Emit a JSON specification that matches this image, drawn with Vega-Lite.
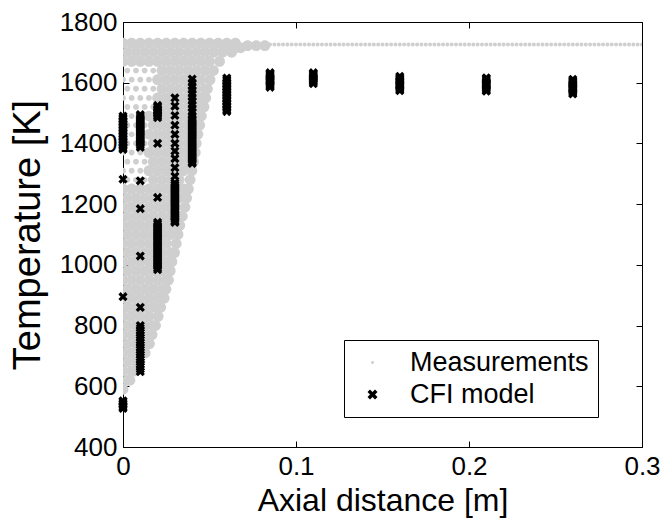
{
  "$schema": "https://vega.github.io/schema/vega-lite/v6.json",
  "width": 519,
  "height": 425,
  "autosize": "none",
  "padding": {"left": 123, "top": 22, "right": 22, "bottom": 71},
  "background": "white",
  "config": {
    "font": "Liberation Sans",
    "view": {"stroke": "black", "strokeWidth": 1},
    "axis": {"grid": false, "domainColor": "black", "tickColor": "black", "labelColor": "black", "titleColor": "black", "labelFont": "Liberation Sans", "titleFont": "Liberation Sans", "titleFontWeight": "normal", "labelFontSize": 26, "titleFontSize": 32, "tickSize": -6, "labelPadding": 12, "labelFlush": false, "labelOverlap": false}
  },
  "datasets": {
    "sparse": [
      {"x":0.0025,"T":1280},{"x":0.0075,"T":1280},{"x":0.0125,"T":1280},
      {"x":0,"T":1310},{"x":0.005,"T":1310},{"x":0.01,"T":1310},
      {"x":0.0025,"T":1340},{"x":0.0075,"T":1340},{"x":0.0125,"T":1340},
      {"x":0,"T":1370},{"x":0.005,"T":1370},{"x":0.01,"T":1370},
      {"x":0.0025,"T":1400},{"x":0.0075,"T":1400},{"x":0.0125,"T":1400},
      {"x":0,"T":1430},{"x":0.005,"T":1430},{"x":0.01,"T":1430},
      {"x":0.0025,"T":1460},{"x":0.0075,"T":1460},{"x":0.0125,"T":1460},
      {"x":0,"T":1490},{"x":0.005,"T":1490},{"x":0.01,"T":1490},
      {"x":0.0025,"T":1520},{"x":0.0075,"T":1520},{"x":0.0125,"T":1520},{"x":0.0175,"T":1520},
      {"x":0,"T":1550},{"x":0.005,"T":1550},{"x":0.01,"T":1550},{"x":0.015,"T":1550},
      {"x":0.0025,"T":1580},{"x":0.0075,"T":1580},{"x":0.0125,"T":1580},{"x":0.0175,"T":1580},
      {"x":0,"T":1610},{"x":0.005,"T":1610},{"x":0.01,"T":1610},{"x":0.015,"T":1610},
      {"x":0.0025,"T":1640},{"x":0.0075,"T":1640},{"x":0.0125,"T":1640},{"x":0.0175,"T":1640}
    ],
    "meas": [
      {"x":0,"T":590},
      {"x":0.0025,"T":620},{"x":0.004,"T":620},
      {"x":0,"T":650},{"x":0.005,"T":650},{"x":0.007,"T":650},
      {"x":0.0025,"T":680},{"x":0.0075,"T":680},{"x":0.0098,"T":680},
      {"x":0,"T":710},{"x":0.005,"T":710},{"x":0.01,"T":710},{"x":0.0128,"T":710},
      {"x":0.0025,"T":740},{"x":0.0075,"T":740},{"x":0.0125,"T":740},{"x":0.0153,"T":740},
      {"x":0,"T":770},{"x":0.005,"T":770},{"x":0.01,"T":770},{"x":0.015,"T":770},{"x":0.0168,"T":770},
      {"x":0.0025,"T":800},{"x":0.0075,"T":800},{"x":0.0125,"T":800},{"x":0.0175,"T":800},{"x":0.0188,"T":800},
      {"x":0,"T":830},{"x":0.005,"T":830},{"x":0.01,"T":830},{"x":0.015,"T":830},{"x":0.0203,"T":830},
      {"x":0.0025,"T":860},{"x":0.0075,"T":860},{"x":0.0125,"T":860},{"x":0.0175,"T":860},{"x":0.0218,"T":860},
      {"x":0,"T":890},{"x":0.005,"T":890},{"x":0.01,"T":890},{"x":0.015,"T":890},{"x":0.02,"T":890},{"x":0.0238,"T":890},
      {"x":0.0025,"T":920},{"x":0.0075,"T":920},{"x":0.0125,"T":920},{"x":0.0175,"T":920},{"x":0.0225,"T":920},{"x":0.0248,"T":920},
      {"x":0,"T":950},{"x":0.005,"T":950},{"x":0.01,"T":950},{"x":0.015,"T":950},{"x":0.02,"T":950},{"x":0.025,"T":950},{"x":0.0263,"T":950},
      {"x":0.0025,"T":980},{"x":0.0075,"T":980},{"x":0.0125,"T":980},{"x":0.0175,"T":980},{"x":0.0225,"T":980},{"x":0.0273,"T":980},
      {"x":0,"T":1010},{"x":0.005,"T":1010},{"x":0.01,"T":1010},{"x":0.015,"T":1010},{"x":0.02,"T":1010},{"x":0.025,"T":1010},{"x":0.0283,"T":1010},
      {"x":0.0025,"T":1040},{"x":0.0075,"T":1040},{"x":0.0125,"T":1040},{"x":0.0175,"T":1040},{"x":0.0225,"T":1040},{"x":0.0275,"T":1040},{"x":0.0298,"T":1040},
      {"x":0,"T":1070},{"x":0.005,"T":1070},{"x":0.01,"T":1070},{"x":0.015,"T":1070},{"x":0.02,"T":1070},{"x":0.025,"T":1070},{"x":0.0308,"T":1070},
      {"x":0.0025,"T":1100},{"x":0.0075,"T":1100},{"x":0.0125,"T":1100},{"x":0.0175,"T":1100},{"x":0.0225,"T":1100},{"x":0.0275,"T":1100},{"x":0.0318,"T":1100},
      {"x":0,"T":1130},{"x":0.005,"T":1130},{"x":0.01,"T":1130},{"x":0.015,"T":1130},{"x":0.02,"T":1130},{"x":0.025,"T":1130},{"x":0.03,"T":1130},{"x":0.0328,"T":1130},
      {"x":0.0025,"T":1160},{"x":0.0075,"T":1160},{"x":0.0125,"T":1160},{"x":0.0175,"T":1160},{"x":0.0225,"T":1160},{"x":0.0275,"T":1160},{"x":0.0325,"T":1160},{"x":0.0343,"T":1160},
      {"x":0,"T":1190},{"x":0.005,"T":1190},{"x":0.01,"T":1190},{"x":0.015,"T":1190},{"x":0.02,"T":1190},{"x":0.025,"T":1190},{"x":0.03,"T":1190},{"x":0.0358,"T":1190},
      {"x":0.0025,"T":1220},{"x":0.0075,"T":1220},{"x":0.0125,"T":1220},{"x":0.0175,"T":1220},{"x":0.0225,"T":1220},{"x":0.0275,"T":1220},{"x":0.0325,"T":1220},{"x":0.0368,"T":1220},
      {"x":0,"T":1250},{"x":0.005,"T":1250},{"x":0.01,"T":1250},{"x":0.015,"T":1250},{"x":0.02,"T":1250},{"x":0.025,"T":1250},{"x":0.03,"T":1250},{"x":0.035,"T":1250},{"x":0.0378,"T":1250},
      {"x":0.0175,"T":1280},{"x":0.0225,"T":1280},{"x":0.0275,"T":1280},{"x":0.0325,"T":1280},{"x":0.0388,"T":1280},
      {"x":0.015,"T":1310},{"x":0.02,"T":1310},{"x":0.025,"T":1310},{"x":0.03,"T":1310},{"x":0.035,"T":1310},{"x":0.0398,"T":1310},
      {"x":0.0175,"T":1340},{"x":0.0225,"T":1340},{"x":0.0275,"T":1340},{"x":0.0325,"T":1340},{"x":0.0375,"T":1340},{"x":0.0408,"T":1340},
      {"x":0.015,"T":1370},{"x":0.02,"T":1370},{"x":0.025,"T":1370},{"x":0.03,"T":1370},{"x":0.035,"T":1370},{"x":0.04,"T":1370},{"x":0.0418,"T":1370},
      {"x":0.0175,"T":1400},{"x":0.0225,"T":1400},{"x":0.0275,"T":1400},{"x":0.0325,"T":1400},{"x":0.0375,"T":1400},{"x":0.0423,"T":1400},
      {"x":0.015,"T":1430},{"x":0.02,"T":1430},{"x":0.025,"T":1430},{"x":0.03,"T":1430},{"x":0.035,"T":1430},{"x":0.04,"T":1430},{"x":0.0433,"T":1430},
      {"x":0.0175,"T":1460},{"x":0.0225,"T":1460},{"x":0.0275,"T":1460},{"x":0.0325,"T":1460},{"x":0.0375,"T":1460},{"x":0.0425,"T":1460},{"x":0.0443,"T":1460},
      {"x":0.015,"T":1490},{"x":0.02,"T":1490},{"x":0.025,"T":1490},{"x":0.03,"T":1490},{"x":0.035,"T":1490},{"x":0.04,"T":1490},{"x":0.0453,"T":1490},
      {"x":0.0225,"T":1520},{"x":0.0275,"T":1520},{"x":0.0325,"T":1520},{"x":0.0375,"T":1520},{"x":0.0425,"T":1520},{"x":0.0468,"T":1520},
      {"x":0.02,"T":1550},{"x":0.025,"T":1550},{"x":0.03,"T":1550},{"x":0.035,"T":1550},{"x":0.04,"T":1550},{"x":0.045,"T":1550},{"x":0.0478,"T":1550},
      {"x":0.0225,"T":1580},{"x":0.0275,"T":1580},{"x":0.0325,"T":1580},{"x":0.0375,"T":1580},{"x":0.0425,"T":1580},{"x":0.0475,"T":1580},{"x":0.0488,"T":1580},
      {"x":0.02,"T":1610},{"x":0.025,"T":1610},{"x":0.03,"T":1610},{"x":0.035,"T":1610},{"x":0.04,"T":1610},{"x":0.045,"T":1610},{"x":0.0503,"T":1610},
      {"x":0.0225,"T":1640},{"x":0.0275,"T":1640},{"x":0.0325,"T":1640},{"x":0.0375,"T":1640},{"x":0.0425,"T":1640},{"x":0.0475,"T":1640},{"x":0.0523,"T":1640},
      {"x":0,"T":1670},{"x":0.005,"T":1670},{"x":0.01,"T":1670},{"x":0.015,"T":1670},{"x":0.02,"T":1670},{"x":0.025,"T":1670},{"x":0.03,"T":1670},{"x":0.035,"T":1670},{"x":0.04,"T":1670},{"x":0.045,"T":1670},{"x":0.05,"T":1670},{"x":0.0558,"T":1670},
      {"x":0.0025,"T":1700},{"x":0.0075,"T":1700},{"x":0.0125,"T":1700},{"x":0.0175,"T":1700},{"x":0.0225,"T":1700},{"x":0.0275,"T":1700},{"x":0.0325,"T":1700},{"x":0.0375,"T":1700},{"x":0.0425,"T":1700},{"x":0.0475,"T":1700},{"x":0.0525,"T":1700},{"x":0.0575,"T":1700},{"x":0.0628,"T":1700},
      {"x":0.06,"T":1715},{"x":0.065,"T":1715},{"x":0.068,"T":1715},
      {"x":0.072,"T":1722},{"x":0.077,"T":1722},{"x":0.082,"T":1722},
      {"x":0,"T":1730},{"x":0.005,"T":1730},{"x":0.01,"T":1730},{"x":0.015,"T":1730},{"x":0.02,"T":1730},{"x":0.025,"T":1730},{"x":0.03,"T":1730},{"x":0.035,"T":1730},{"x":0.04,"T":1730},{"x":0.045,"T":1730},{"x":0.05,"T":1730},{"x":0.055,"T":1730},{"x":0.06,"T":1730},{"x":0.065,"T":1730}
    ],
    "top": [
      {"x":0.06,"T":1726},{"x":0.0625,"T":1726},{"x":0.065,"T":1726},{"x":0.0675,"T":1726},{"x":0.07,"T":1726},{"x":0.0725,"T":1726},{"x":0.075,"T":1726},{"x":0.0775,"T":1726},{"x":0.08,"T":1726},{"x":0.0825,"T":1726},
      {"x":0.085,"T":1726},{"x":0.0875,"T":1726},{"x":0.09,"T":1726},{"x":0.0925,"T":1726},{"x":0.095,"T":1726},{"x":0.0975,"T":1726},{"x":0.1,"T":1726},{"x":0.1025,"T":1726},{"x":0.105,"T":1726},{"x":0.1075,"T":1726},
      {"x":0.11,"T":1726},{"x":0.1125,"T":1726},{"x":0.115,"T":1726},{"x":0.1175,"T":1726},{"x":0.12,"T":1726},{"x":0.1225,"T":1726},{"x":0.125,"T":1726},{"x":0.1275,"T":1726},{"x":0.13,"T":1726},{"x":0.1325,"T":1726},
      {"x":0.135,"T":1726},{"x":0.1375,"T":1726},{"x":0.14,"T":1726},{"x":0.1425,"T":1726},{"x":0.145,"T":1726},{"x":0.1475,"T":1726},{"x":0.15,"T":1726},{"x":0.1525,"T":1726},{"x":0.155,"T":1726},{"x":0.1575,"T":1726},
      {"x":0.16,"T":1726},{"x":0.1625,"T":1726},{"x":0.165,"T":1726},{"x":0.1675,"T":1726},{"x":0.17,"T":1726},{"x":0.1725,"T":1726},{"x":0.175,"T":1726},{"x":0.1775,"T":1726},{"x":0.18,"T":1726},{"x":0.1825,"T":1726},
      {"x":0.185,"T":1726},{"x":0.1875,"T":1726},{"x":0.19,"T":1726},{"x":0.1925,"T":1726},{"x":0.195,"T":1726},{"x":0.1975,"T":1726},{"x":0.2,"T":1726},{"x":0.2025,"T":1726},{"x":0.205,"T":1726},{"x":0.2075,"T":1726},
      {"x":0.21,"T":1726},{"x":0.2125,"T":1726},{"x":0.215,"T":1726},{"x":0.2175,"T":1726},{"x":0.22,"T":1726},{"x":0.2225,"T":1726},{"x":0.225,"T":1726},{"x":0.2275,"T":1726},{"x":0.23,"T":1726},{"x":0.2325,"T":1726},
      {"x":0.235,"T":1726},{"x":0.2375,"T":1726},{"x":0.24,"T":1726},{"x":0.2425,"T":1726},{"x":0.245,"T":1726},{"x":0.2475,"T":1726},{"x":0.25,"T":1726},{"x":0.2525,"T":1726},{"x":0.255,"T":1726},{"x":0.2575,"T":1726},
      {"x":0.26,"T":1726},{"x":0.2625,"T":1726},{"x":0.265,"T":1726},{"x":0.2675,"T":1726},{"x":0.27,"T":1726},{"x":0.2725,"T":1726},{"x":0.275,"T":1726},{"x":0.2775,"T":1726},{"x":0.28,"T":1726},{"x":0.2825,"T":1726},
      {"x":0.285,"T":1726},{"x":0.2875,"T":1726},{"x":0.29,"T":1726},{"x":0.2925,"T":1726},{"x":0.295,"T":1726},{"x":0.2975,"T":1726},{"x":0.3,"T":1726}
    ],
    "cfi": [
      {"x":0,"T":1490},{"x":0,"T":1485},{"x":0,"T":1480},{"x":0,"T":1475},{"x":0,"T":1470},{"x":0,"T":1465},{"x":0,"T":1460},{"x":0,"T":1455},{"x":0,"T":1450},{"x":0,"T":1445},{"x":0,"T":1440},{"x":0,"T":1435},{"x":0,"T":1430},{"x":0,"T":1425},{"x":0,"T":1420},{"x":0,"T":1415},{"x":0,"T":1410},{"x":0,"T":1405},{"x":0,"T":1400},{"x":0,"T":1395},{"x":0,"T":1390},{"x":0,"T":1385},{"x":0,"T":1380},
      {"x":0,"T":1282},{"x":0,"T":895},{"x":0,"T":552},{"x":0,"T":547},{"x":0,"T":542},{"x":0,"T":537},{"x":0,"T":532},{"x":0,"T":527},
      {"x":0.01,"T":1495},{"x":0.01,"T":1489},{"x":0.01,"T":1483},{"x":0.01,"T":1477},{"x":0.01,"T":1471},{"x":0.01,"T":1465},{"x":0.01,"T":1459},{"x":0.01,"T":1453},{"x":0.01,"T":1447},{"x":0.01,"T":1441},{"x":0.01,"T":1435},{"x":0.01,"T":1429},{"x":0.01,"T":1423},{"x":0.01,"T":1417},{"x":0.01,"T":1411},{"x":0.01,"T":1405},{"x":0.01,"T":1399},{"x":0.01,"T":1393},{"x":0.01,"T":1387},
      {"x":0.01,"T":1277},{"x":0.01,"T":1185},{"x":0.01,"T":1029},{"x":0.01,"T":860},
      {"x":0.01,"T":800},{"x":0.01,"T":792},{"x":0.01,"T":784},{"x":0.01,"T":776},{"x":0.01,"T":768},{"x":0.01,"T":760},{"x":0.01,"T":752},{"x":0.01,"T":744},{"x":0.01,"T":736},{"x":0.01,"T":728},{"x":0.01,"T":720},{"x":0.01,"T":712},{"x":0.01,"T":704},{"x":0.01,"T":696},{"x":0.01,"T":688},{"x":0.01,"T":680},{"x":0.01,"T":672},{"x":0.01,"T":664},{"x":0.01,"T":656},{"x":0.01,"T":648},
      {"x":0.02,"T":1525},{"x":0.02,"T":1520},{"x":0.02,"T":1515},{"x":0.02,"T":1510},{"x":0.02,"T":1505},{"x":0.02,"T":1500},{"x":0.02,"T":1495},{"x":0.02,"T":1490},{"x":0.02,"T":1485},{"x":0.02,"T":1400},{"x":0.02,"T":1222},
      {"x":0.02,"T":1140},{"x":0.02,"T":1134},{"x":0.02,"T":1128},{"x":0.02,"T":1122},{"x":0.02,"T":1116},{"x":0.02,"T":1110},{"x":0.02,"T":1104},{"x":0.02,"T":1098},{"x":0.02,"T":1092},{"x":0.02,"T":1086},{"x":0.02,"T":1080},{"x":0.02,"T":1074},{"x":0.02,"T":1068},{"x":0.02,"T":1062},{"x":0.02,"T":1056},{"x":0.02,"T":1050},{"x":0.02,"T":1044},{"x":0.02,"T":1038},{"x":0.02,"T":1032},{"x":0.02,"T":1026},{"x":0.02,"T":1020},{"x":0.02,"T":1014},{"x":0.02,"T":1008},{"x":0.02,"T":1002},{"x":0.02,"T":996},{"x":0.02,"T":990},{"x":0.02,"T":984},
      {"x":0.03,"T":1550},{"x":0.03,"T":1523},{"x":0.03,"T":1492},{"x":0.03,"T":1460},{"x":0.03,"T":1430},{"x":0.03,"T":1400},{"x":0.03,"T":1375},{"x":0.03,"T":1350},{"x":0.03,"T":1320},{"x":0.03,"T":1292},
      {"x":0.03,"T":1270},{"x":0.03,"T":1264},{"x":0.03,"T":1258},{"x":0.03,"T":1252},{"x":0.03,"T":1246},{"x":0.03,"T":1240},{"x":0.03,"T":1234},{"x":0.03,"T":1228},{"x":0.03,"T":1222},{"x":0.03,"T":1216},{"x":0.03,"T":1210},{"x":0.03,"T":1204},{"x":0.03,"T":1198},{"x":0.03,"T":1192},{"x":0.03,"T":1186},{"x":0.03,"T":1180},{"x":0.03,"T":1174},{"x":0.03,"T":1168},{"x":0.03,"T":1162},{"x":0.03,"T":1156},{"x":0.03,"T":1150},{"x":0.03,"T":1144},{"x":0.03,"T":1140},
      {"x":0.04,"T":1612},{"x":0.04,"T":1600},{"x":0.04,"T":1588},{"x":0.04,"T":1576},{"x":0.04,"T":1564},{"x":0.04,"T":1552},{"x":0.04,"T":1540},{"x":0.04,"T":1528},{"x":0.04,"T":1516},{"x":0.04,"T":1504},{"x":0.04,"T":1492},{"x":0.04,"T":1482},{"x":0.04,"T":1476},{"x":0.04,"T":1470},{"x":0.04,"T":1464},{"x":0.04,"T":1458},{"x":0.04,"T":1452},{"x":0.04,"T":1446},{"x":0.04,"T":1440},{"x":0.04,"T":1434},{"x":0.04,"T":1428},{"x":0.04,"T":1422},{"x":0.04,"T":1416},{"x":0.04,"T":1410},{"x":0.04,"T":1404},{"x":0.04,"T":1398},{"x":0.04,"T":1392},{"x":0.04,"T":1386},{"x":0.04,"T":1380},{"x":0.04,"T":1374},{"x":0.04,"T":1368},{"x":0.04,"T":1362},{"x":0.04,"T":1356},{"x":0.04,"T":1350},{"x":0.04,"T":1344},{"x":0.04,"T":1338},{"x":0.04,"T":1334},
      {"x":0.06,"T":1615},{"x":0.06,"T":1610},{"x":0.06,"T":1605},{"x":0.06,"T":1600},{"x":0.06,"T":1595},{"x":0.06,"T":1590},{"x":0.06,"T":1585},{"x":0.06,"T":1580},{"x":0.06,"T":1575},{"x":0.06,"T":1570},{"x":0.06,"T":1565},{"x":0.06,"T":1560},{"x":0.06,"T":1555},{"x":0.06,"T":1550},{"x":0.06,"T":1545},{"x":0.06,"T":1540},{"x":0.06,"T":1535},{"x":0.06,"T":1530},{"x":0.06,"T":1525},{"x":0.06,"T":1520},{"x":0.06,"T":1515},{"x":0.06,"T":1510},{"x":0.06,"T":1505},
      {"x":0.085,"T":1633},{"x":0.085,"T":1629},{"x":0.085,"T":1625},{"x":0.085,"T":1621},{"x":0.085,"T":1617},{"x":0.085,"T":1613},{"x":0.085,"T":1609},{"x":0.085,"T":1605},{"x":0.085,"T":1601},{"x":0.085,"T":1597},{"x":0.085,"T":1593},{"x":0.085,"T":1589},{"x":0.085,"T":1585},
      {"x":0.11,"T":1633},{"x":0.11,"T":1629},{"x":0.11,"T":1625},{"x":0.11,"T":1621},{"x":0.11,"T":1617},{"x":0.11,"T":1613},{"x":0.11,"T":1609},{"x":0.11,"T":1605},{"x":0.11,"T":1601},{"x":0.11,"T":1597},
      {"x":0.16,"T":1621},{"x":0.16,"T":1617},{"x":0.16,"T":1613},{"x":0.16,"T":1609},{"x":0.16,"T":1605},{"x":0.16,"T":1601},{"x":0.16,"T":1597},{"x":0.16,"T":1593},{"x":0.16,"T":1589},{"x":0.16,"T":1585},{"x":0.16,"T":1581},{"x":0.16,"T":1577},{"x":0.16,"T":1574},
      {"x":0.21,"T":1616},{"x":0.21,"T":1612},{"x":0.21,"T":1608},{"x":0.21,"T":1604},{"x":0.21,"T":1600},{"x":0.21,"T":1596},{"x":0.21,"T":1592},{"x":0.21,"T":1588},{"x":0.21,"T":1584},{"x":0.21,"T":1580},{"x":0.21,"T":1576},{"x":0.21,"T":1572},
      {"x":0.26,"T":1611},{"x":0.26,"T":1607},{"x":0.26,"T":1603},{"x":0.26,"T":1599},{"x":0.26,"T":1595},{"x":0.26,"T":1591},{"x":0.26,"T":1587},{"x":0.26,"T":1583},{"x":0.26,"T":1579},{"x":0.26,"T":1575},{"x":0.26,"T":1571},{"x":0.26,"T":1567},{"x":0.26,"T":1563}
    ]
  },
  "layer": [
    {
      "data": {"name": "meas"},
      "mark": {"type": "point", "filled": true, "size": 1300, "opacity": 1, "strokeWidth": 0, "clip": true},
      "encoding": {
        "x": {"field": "x", "type": "quantitative", "scale": {"domain": [0, 0.3], "nice": false, "zero": false}, "axis": {"values": [0, 0.1, 0.2, 0.3], "format": "~g", "title": "Axial distance [m]", "titlePadding": 6}},
        "y": {"field": "T", "type": "quantitative", "scale": {"domain": [400, 1800], "nice": false, "zero": false}, "axis": {"values": [400, 600, 800, 1000, 1200, 1400, 1600, 1800], "format": "d", "title": "Temperature [K]", "titleFontSize": 38, "titlePadding": 12}},
        "color": {"datum": "Measurements", "type": "nominal", "scale": {"domain": ["Measurements", "CFI model"], "range": ["#cfcfcf", "#000000"]}, "legend": {"title": null, "orient": "none", "legendX": 221, "legendY": 318, "strokeColor": "black", "fillColor": "white", "padding": 9, "labelFontSize": 27, "labelFont": "Liberation Sans", "labelColor": "black", "labelLimit": 0, "rowPadding": 4, "labelOffset": 24, "symbolOffset": 6, "symbolSize": 100, "symbolStrokeWidth": 0}},
        "shape": {"datum": "Measurements", "type": "nominal", "scale": {"domain": ["Measurements", "CFI model"], "range": ["M0,-0.3A0.3,0.3 0 1,1 0,0.3A0.3,0.3 0 1,1 0,-0.3Z", "M-1,-0.5L-0.5,-1L0,-0.5L0.5,-1L1,-0.5L0.5,0L1,0.5L0.5,1L0,0.5L-0.5,1L-1,0.5L-0.5,0Z"]}, "legend": {"title": null, "orient": "none", "legendX": 221, "legendY": 318, "strokeColor": "black", "fillColor": "white", "padding": 9, "labelFontSize": 27, "labelFont": "Liberation Sans", "labelColor": "black", "labelLimit": 0, "rowPadding": 4, "labelOffset": 24, "symbolOffset": 6, "symbolSize": 100, "symbolStrokeWidth": 0}}
      }
    },
    {
      "data": {"name": "sparse"},
      "mark": {"type": "point", "filled": true, "size": 380, "opacity": 1, "strokeWidth": 0, "clip": true},
      "encoding": {
        "x": {"field": "x", "type": "quantitative", "axis": null},
        "y": {"field": "T", "type": "quantitative", "axis": null},
        "color": {"datum": "Measurements", "type": "nominal"},
        "shape": {"datum": "Measurements", "type": "nominal"}
      }
    },
    {
      "data": {"name": "top"},
      "mark": {"type": "point", "filled": true, "size": 170, "opacity": 1, "strokeWidth": 0, "clip": true},
      "encoding": {
        "x": {"field": "x", "type": "quantitative", "axis": null},
        "y": {"field": "T", "type": "quantitative", "axis": null},
        "color": {"datum": "Measurements", "type": "nominal"},
        "shape": {"datum": "Measurements", "type": "nominal"}
      }
    },
    {
      "data": {"name": "cfi"},
      "mark": {"type": "point", "filled": true, "size": 85, "opacity": 1, "strokeWidth": 0},
      "encoding": {
        "x": {"field": "x", "type": "quantitative", "axis": null},
        "y": {"field": "T", "type": "quantitative", "axis": null},
        "color": {"datum": "CFI model", "type": "nominal"},
        "shape": {"datum": "CFI model", "type": "nominal"}
      }
    },
    {
      "data": {"name": "cfi"},
      "mark": {"type": "point", "opacity": 0},
      "encoding": {
        "x": {"field": "x", "type": "quantitative", "axis": {"orient": "top", "values": [0, 0.1, 0.2, 0.3], "labels": false, "title": null, "domain": false}},
        "y": {"field": "T", "type": "quantitative", "axis": {"orient": "right", "values": [400, 600, 800, 1000, 1200, 1400, 1600, 1800], "labels": false, "title": null, "domain": false}}
      }
    }
  ],
  "resolve": {"axis": {"x": "independent", "y": "independent"}}
}
